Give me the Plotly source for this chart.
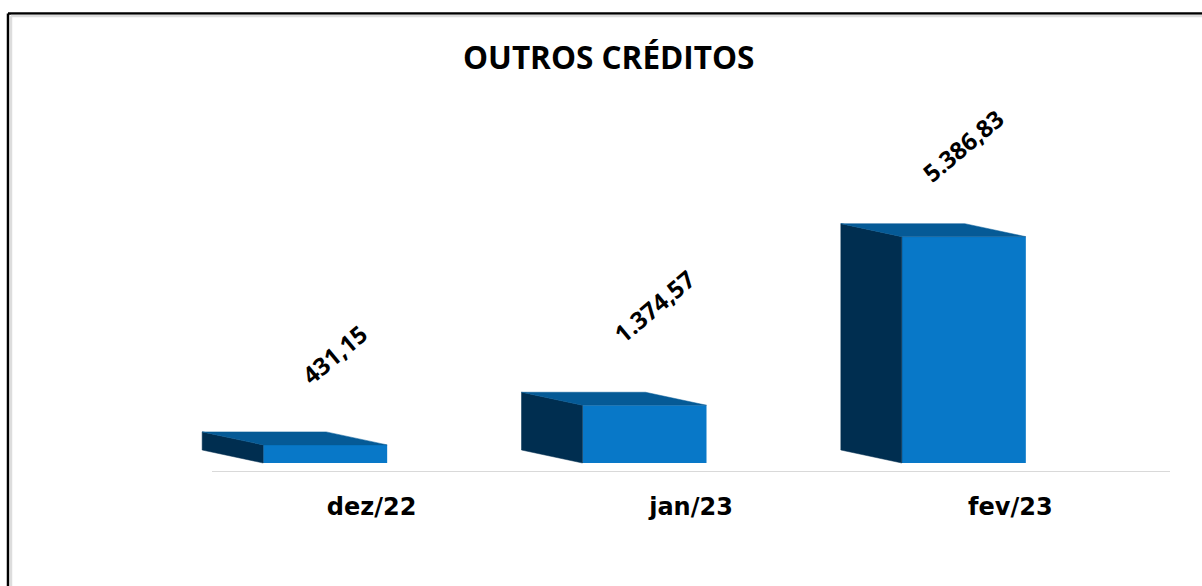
import plotly.graph_objects as go

categories = ["dez/22", "jan/23", "fev/23"]
values = [431.15, 1374.57, 5386.83]
value_labels = ["431,15", "1.374,57", "5.386,83"]
title_text = "OUTROS CRÉDITOS"

# layout (pixels in the 1202x586 page)
W, H = 1202, 586
PL, PR, PT, PB = 150, 32, 60, 114
AXIS_L = 212
UNITS_PER_PX = 23.8
X_PX = (W - AXIS_L - PR) / 3.0      # px per category
y_top = (H - PT - PB) * UNITS_PER_PX
FLOOR = 9 * UNITS_PER_PX            # bars stand a little above the axis line
BAR_W = 124 / X_PX
BAR_SHIFT = -46.5 / X_PX
DX = -61 / X_PX                     # depth of the box
DY = 13 * UNITS_PER_PX
LABEL_SHIFT = [(9, 90), (9, 99), (-1, 91)]

FRONT, SIDE, TOP = "#0878C8", "#002E50", "#055A96"

xs = list(range(len(categories)))
fig = go.Figure()

for i, v in zip(xs, values):
    left = i + BAR_SHIFT - BAR_W / 2
    right = left + BAR_W
    top = FLOOR + v
    fig.add_trace(go.Scatter(
        x=[left, left + DX, left + DX, left, left],
        y=[FLOOR, FLOOR + DY, top + DY, top, FLOOR],
        mode="lines", fill="toself", fillcolor=SIDE,
        line=dict(color=SIDE, width=0.5), hoverinfo="skip"))
    fig.add_trace(go.Scatter(
        x=[left, left + DX, right + DX, right, left],
        y=[top, top + DY, top + DY, top, top],
        mode="lines", fill="toself", fillcolor=TOP,
        line=dict(color=TOP, width=0.5), hoverinfo="skip"))

fig.add_trace(go.Bar(
    x=[i + BAR_SHIFT for i in xs], y=values, base=FLOOR, width=BAR_W,
    marker=dict(color=FRONT, line=dict(width=0)), hoverinfo="y"))

annotations = []
for i, v, lab, (sx, sy) in zip(xs, values, value_labels, LABEL_SHIFT):
    annotations.append(dict(
        x=i + BAR_SHIFT, y=FLOOR + v, text=f"<b>{lab}</b>", showarrow=False,
        textangle=-40, xshift=sx, yshift=sy, xanchor="center", yanchor="middle",
        font=dict(family="Open Sans", size=24, color="#000000")))


def px(x):
    return (x - PL) / (W - PL - PR)


def py(y):
    return (H - PB - y) / (H - PT - PB)


frame = [
    (8, 13.5, 8, H, "#000000", 2.5), (8, 13.5, W, 13.5, "#000000", 2.5),
    (11, 16, 11, H, "#DDDDDD", 2.5), (11, 16, W, 16, "#DDDDDD", 2.5),
]
shapes = [dict(type="line", xref="paper", yref="paper", x0=px(a), y0=py(b), x1=px(c), y1=py(d),
               line=dict(color=col, width=wd), layer="below") for a, b, c, d, col, wd in frame]
shapes.append(dict(type="line", xref="x", yref="y", x0=-0.5, x1=2.5, y0=0, y1=0,
                   line=dict(color="#D9D9D9", width=2)))

annotations.append(dict(
    xref="paper", yref="paper", x=px(608), y=py(57), text=f"<b>{title_text}</b>",
    showarrow=False, xanchor="center", yanchor="middle",
    font=dict(family="Open Sans", size=31.5, color="#000000")))

fig.update_layout(
    width=W, height=H, autosize=False,
    margin=dict(l=PL, r=PR, t=PT, b=PB, pad=0),
    paper_bgcolor="#FFFFFF", plot_bgcolor="#FFFFFF",
    showlegend=False, shapes=shapes, annotations=annotations,
    xaxis=dict(range=[-0.5 - (AXIS_L - PL) / X_PX, 2.5], tickvals=xs,
               ticktext=[f"<b>{c}</b>" for c in categories],
               showgrid=False, zeroline=False, showline=False, ticks="outside", ticklen=13,
               tickcolor="rgba(0,0,0,0)", fixedrange=True,
               tickfont=dict(family="DejaVu Sans", size=24, color="#000000")),
    yaxis=dict(range=[0, y_top], visible=False, showgrid=False, zeroline=False,
               fixedrange=True),
)
fig.write_html("out.html", config=dict(displayModeBar=False),
               post_script="document.body.style.margin='0';document.body.style.overflow='hidden';")
